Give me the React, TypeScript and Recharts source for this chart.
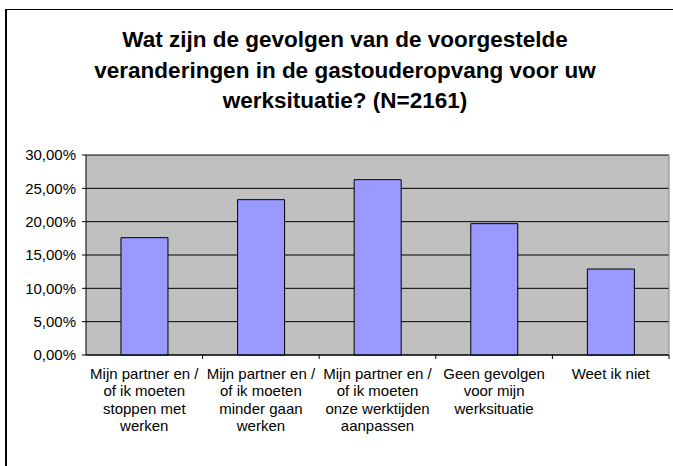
import React from 'react';
import { BarChart, Bar, XAxis, YAxis, CartesianGrid } from 'recharts';

const categories = [
  'Mijn partner en / of ik moeten stoppen met werken',
  'Mijn partner en / of ik moeten minder gaan werken',
  'Mijn partner en / of ik moeten onze werktijden aanpassen',
  'Geen gevolgen voor mijn werksituatie',
  'Weet ik niet',
];

// how Excel wrapped the category labels
const tickLines = [
  ['Mijn partner en /', 'of ik moeten', 'stoppen met', 'werken'],
  ['Mijn partner en /', 'of ik moeten', 'minder gaan', 'werken'],
  ['Mijn partner en /', 'of ik moeten', 'onze werktijden', 'aanpassen'],
  ['Geen gevolgen', 'voor mijn', 'werksituatie'],
  ['Weet ik niet'],
];

const shares = [17.6, 23.3, 26.3, 19.7, 12.9];
const yTicks = [0, 5, 10, 15, 20, 25, 30];

const titleLines = [
  'Wat zijn de gevolgen van de voorgestelde',
  'veranderingen in de gastouderopvang voor uw',
  'werksituatie? (N=2161)',
];

const data = categories.map((name, i) => ({ name, share: shares[i] }));

const FONT = '"Liberation Sans", Arial, Helvetica, sans-serif';

const fmtPct = (v: number) => v.toFixed(2).replace('.', ',') + '%';

function CategoryTick(props: any) {
  const { x, y, payload, index, width } = props;
  const idx = typeof index === 'number' ? index : categories.indexOf(payload.value);
  const lines = tickLines[idx] || [payload.value];
  const bw = width / categories.length;
  return (
    <g>
      <line x1={x + bw / 2} x2={x + bw / 2} y1={y - 8} y2={y - 4} stroke="#000" />
      <text x={x} y={y} textAnchor="middle" fontSize={15} fontFamily={FONT} fill="#000">
        {lines.map((l: string, i: number) => (
          <tspan key={i} x={x} dy={i === 0 ? 15.5 : 17.5}>
            {l}
          </tspan>
        ))}
      </text>
    </g>
  );
}

export default function App() {
  return (
    <div style={{ position: 'fixed', left: 0, top: 0, width: 673, height: 466, background: '#fff', overflow: 'hidden' }}>
      <div
        style={{
          position: 'absolute',
          left: 5,
          top: 9,
          width: 700,
          height: 500,
          borderLeft: '2px solid #000',
          borderTop: '1px solid #000',
        }}
      />
      <div
        style={{
          position: 'absolute',
          left: 10,
          top: 25,
          width: 670,
          textAlign: 'center',
          fontFamily: FONT,
          fontWeight: 'bold',
          fontSize: 22.5,
          lineHeight: '30.5px',
          color: '#000',
        }}
      >
        {titleLines.map((t, i) => (
          <div key={i}>{t}</div>
        ))}
      </div>
      <div style={{ position: 'absolute', left: 0, top: 0 }}>
        <BarChart
          width={673}
          height={466}
          data={data}
          margin={{ top: 155, right: 0, bottom: 0, left: 0 }}
          barCategoryGap="30%"
        >
          <CartesianGrid yAxisId="left" vertical={false} stroke="#000" fill="#C0C0C0" fillOpacity={1} />
          <XAxis
            dataKey="name"
            height={111}
            tickSize={4}
            tickMargin={4}
            tickLine={false}
            axisLine={{ stroke: '#000' }}
            tick={<CategoryTick />}
            interval={0}
          />
          <YAxis
            yAxisId="left"
            width={86}
            domain={[0, 30]}
            ticks={yTicks}
            tickFormatter={fmtPct}
            tickSize={4}
            tickMargin={6}
            axisLine={{ stroke: '#000' }}
            tickLine={{ stroke: '#000' }}
            tick={{ fill: '#000', fontSize: 15, fontFamily: FONT }}
          />
          <YAxis
            yAxisId="right"
            orientation="right"
            width={4}
            domain={[0, 30]}
            tick={false}
            tickLine={false}
            axisLine={{ stroke: '#808080' }}
          />
          <Bar
            yAxisId="left"
            dataKey="share"
            fill="#9999FF"
            stroke="#000"
            strokeWidth={1}
            isAnimationActive={false}
          />
        </BarChart>
      </div>
    </div>
  );
}
